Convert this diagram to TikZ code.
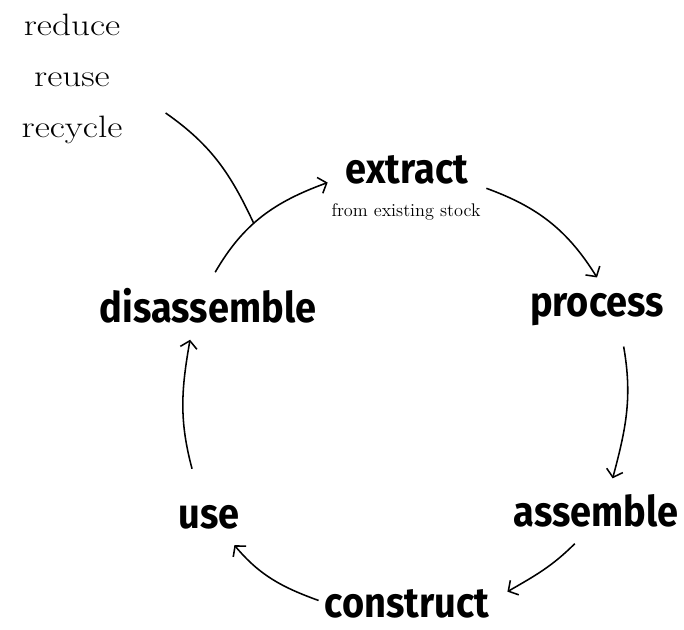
\documentclass[tikz,border=0pt]{standalone}
\usepackage{fontspec}
\newfontfamily\stagefont[FakeStretch=0.9]{Fira Sans}
\newfontfamily\wordfont[FakeStretch=1.2]{Latin Modern Roman}
\usetikzlibrary{arrows.meta}

\begin{document}
\begin{tikzpicture}[x=0.025cm, y=0.025cm,
    stage/.style={font=\stagefont\bfseries\fontsize{30}{32}\selectfont, inner xsep=0.45cm, inner ysep=0.4cm},
    word/.style={font=\wordfont\fontsize{22}{24}\selectfont, inner sep=0pt},
    note/.style={font=\fontsize{13}{15}\selectfont, inner sep=0pt},
    link/.style={line width=1.1pt},
    cycarrow/.style={link, -{Straight Barb[length=0.18cm,width=0.42cm]}}]
    \useasboundingbox (0,0) rectangle (684,630);

    % reduce, reuse, recycle
    \node[word] (reduce) at (72,605) {reduce};
    \node[word] (reuse) at (72,550) {reuse};
    \node[word] (recycle) at (72,500) {recycle};

    % stages of the cycle
    \node[stage] (extract) at (407,460) {extract};
    \node[note] (stock) at (406,418) {from existing stock};
    \node[stage] (process) at (597,320) {process};
    \node[stage] (assemble) at (596,119) {assemble};
    \node[stage] (construct) at (407,26) {construct};
    \node[stage] (use) at (209,113) {use};
    \node[stage] (disassemble) at (208,324) {disassemble};

    % arrows round the cycle
    \draw[cycarrow] (disassemble.78) to[out=60, in=200] node[coordinate, pos=0.42] (join) {} (extract.189);
    \draw[cycarrow] (extract.347) to[out=-20, in=122] (process.90);
    \draw[cycarrow] ([shift={(3,-4)}]process.306) to[out=-80, in=75] (assemble.63);
    \draw[cycarrow] (assemble.237) to[out=225, in=30] (construct.7);
    \draw[cycarrow] ([shift={(12,0)}]construct.178) to[out=160, in=310] (use.312);
    \draw[cycarrow] ([shift={(0,20)}]use.121) to[out=105, in=260] (disassemble.242);

    % the three r's join the cycle
    \draw[link] ([shift={(43,17)}]recycle.east) to[out=-35, in=115] (join);
\end{tikzpicture}
\end{document}
